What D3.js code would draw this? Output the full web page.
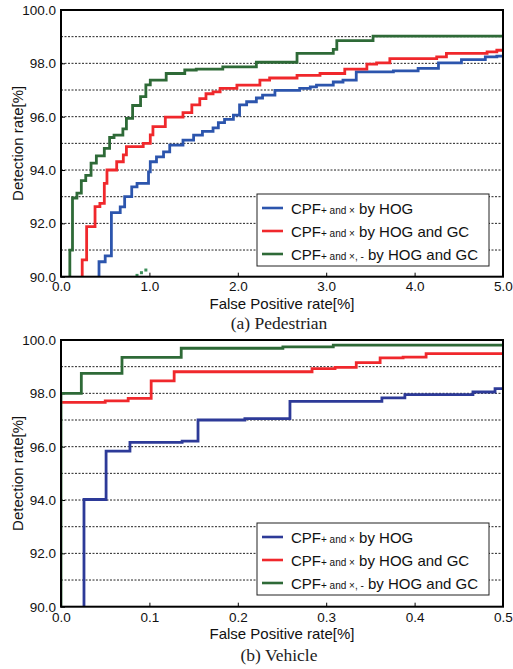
<!DOCTYPE html>
<html>
<head>
<meta charset="utf-8">
<script src="https://cdn.jsdelivr.net/npm/d3@7"></script>
<style>
	body { margin: 0; background: #fff; }
	svg { display: block; font-family: 'Liberation Sans', Arial, sans-serif; }
	.frame { fill: none; stroke: #000; stroke-width: 2; }
	.grid line { stroke: #222; stroke-width: 1; stroke-dasharray: 2,1.5; }
	.axis path { display: none; }
	.axis line { stroke: #000; }
	.axis text { font-size: 13.5px; fill: #111; }
	.roc { fill: none; stroke-width: 2.8; }
	.axis-label { font-size: 15px; fill: #111; }
	.caption { font-family: 'Liberation Serif', 'Times New Roman', serif; font-size: 17.5px; fill: #222; }
	.legend-box { fill: #fff; stroke: #222; stroke-width: 1; }
	.legend text { font-size: 15px; fill: #111; }
</style>
</head>
<body>
<div id="graphic"></div>
<script>
// Globals
var WIDTH = 513;
var HEIGHT = 669;

var COLORS = {
	'hog': '#2c55ad',
	'hogVeh': '#2d3a98',
	'hogGc': '#f0282c',
	'all': '#2e6a37'
};

// Legend labels: [main, subscript, rest]
var LEGEND_LABELS = [
	['CPF', '+ and \u00d7', ' by HOG'],
	['CPF', '+ and \u00d7', ' by HOG and GC'],
	['CPF', '+ and \u00d7, -', ' by HOG and GC']
];

var Y_TICKS = [90, 92, 94, 96, 98, 100];
var Y_GRID = [91, 92, 93, 94, 95, 96, 97, 98, 99];
var PED_X_TICKS = [0, 1, 2, 3, 4, 5];
var VEH_X_TICKS = [0, 0.1, 0.2, 0.3, 0.4, 0.5];

// (a) Pedestrian: [false positive rate, detection rate]
var PED_HOG = [
	[0.43, 89.0], [0.43, 90.56], [0.50, 90.78], [0.57, 92.40], [0.67, 92.62],
	[0.72, 93.00], [0.80, 93.37], [0.86, 93.50], [0.99, 93.93], [1.01, 94.31],
	[1.08, 94.49], [1.16, 94.68], [1.23, 94.93], [1.38, 95.12], [1.50, 95.31],
	[1.60, 95.45], [1.72, 95.58], [1.78, 95.78], [1.85, 95.90], [1.95, 96.06],
	[2.02, 96.44], [2.10, 96.56], [2.21, 96.70], [2.28, 96.81], [2.42, 96.99],
	[2.70, 97.06], [2.82, 97.12], [2.89, 97.18], [3.08, 97.30], [3.19, 97.37],
	[3.34, 97.68], [3.76, 97.72], [4.04, 97.81], [4.27, 98.02], [4.53, 98.14],
	[4.80, 98.24], [4.93, 98.27], [5.00, 98.27]
];

var PED_HOG_GC = [
	[0.24, 89.0], [0.24, 90.63], [0.29, 91.88], [0.385, 92.63], [0.44, 92.75],
	[0.49, 93.50], [0.52, 94.00], [0.63, 94.31], [0.705, 94.57], [0.74, 94.88],
	[0.93, 95.00], [1.01, 95.32], [1.04, 95.63], [1.18, 95.98], [1.38, 96.15],
	[1.48, 96.44], [1.57, 96.68], [1.64, 96.86], [1.72, 96.93], [1.80, 97.06],
	[1.99, 97.18], [2.25, 97.37], [2.36, 97.45], [2.67, 97.55], [2.93, 97.62],
	[3.21, 97.78], [3.46, 97.97], [3.57, 98.02], [3.72, 98.18], [4.25, 98.24],
	[4.36, 98.37], [4.82, 98.43], [4.93, 98.49], [5.00, 98.49]
];

var PED_ALL = [
	[0.10, 89.0], [0.10, 91.00], [0.13, 92.95], [0.18, 93.13], [0.23, 93.60],
	[0.28, 93.80], [0.34, 94.26], [0.40, 94.53], [0.49, 94.81], [0.55, 95.22],
	[0.60, 95.31], [0.70, 95.54], [0.74, 95.94], [0.81, 96.42], [0.90, 96.75],
	[0.96, 97.19], [1.01, 97.37], [1.19, 97.62], [1.40, 97.75], [1.53, 97.78],
	[1.83, 97.87], [2.21, 98.04], [2.67, 98.37], [3.08, 98.52], [3.12, 98.85],
	[3.53, 99.02], [5.00, 99.02]
];

// stray green specks near the x axis
var PED_SPECKS = [[0.86, 90.05], [0.91, 90.15], [0.96, 90.25]];

// (b) Vehicle
var VEH_HOG = [
	[0.026, 89.0], [0.026, 94.02], [0.051, 95.83], [0.078, 96.16], [0.137, 96.21],
	[0.155, 97.00], [0.208, 97.05], [0.259, 97.70], [0.363, 97.83], [0.389, 97.95],
	[0.466, 98.05], [0.491, 98.18], [0.500, 98.18]
];

var VEH_HOG_GC = [
	[0.0, 97.66], [0.050, 97.72], [0.076, 97.81], [0.102, 98.47], [0.128, 98.81],
	[0.284, 98.93], [0.310, 98.97], [0.334, 99.15], [0.361, 99.33], [0.387, 99.36],
	[0.413, 99.49], [0.500, 99.49]
];

var VEH_ALL = [
	[0.0, 89.0], [0.0, 98.00], [0.023, 98.75], [0.069, 99.35], [0.136, 99.69],
	[0.251, 99.74], [0.308, 99.81], [0.500, 99.81]
];

/*
 * Render one ROC panel.
 */
function renderPanel(svg, config) {
	var margins = { left: 61, top: config['top'] };
	var chartWidth = 442;
	var chartHeight = 266.7;

	var chartElement = svg.append('g')
		.attr('transform', 'translate(' + margins['left'] + ',' + margins['top'] + ')');

	var xScale = d3.scaleLinear()
		.domain([0, config['xMax']])
		.range([0, chartWidth]);

	var yScale = d3.scaleLinear()
		.domain([90, 100])
		.range([chartHeight, 0]);

	var clipId = 'clip-' + config['id'];
	chartElement.append('clipPath')
		.attr('id', clipId)
		.append('rect')
		.attr('width', chartWidth)
		.attr('height', chartHeight);

	// dashed horizontal grid
	chartElement.append('g')
		.attr('class', 'grid')
		.selectAll('line')
		.data(Y_GRID)
		.enter().append('line')
		.attr('x1', 0)
		.attr('x2', chartWidth)
		.attr('y1', function(d) { return yScale(d); })
		.attr('y2', function(d) { return yScale(d); });

	// axes, ticks pointing inward
	var xAxis = d3.axisBottom(xScale)
		.tickValues(config['xTicks'])
		.tickSizeInner(-4)
		.tickSizeOuter(0)
		.tickPadding(config['tickPad'])
		.tickFormat(d3.format(config['xFormat']));

	chartElement.append('g')
		.attr('class', 'x axis')
		.attr('transform', 'translate(0,' + chartHeight + ')')
		.call(xAxis);

	var yAxis = d3.axisLeft(yScale)
		.tickValues(Y_TICKS)
		.tickSizeInner(-4)
		.tickSizeOuter(0)
		.tickPadding(5)
		.tickFormat(d3.format('.1f'));

	chartElement.append('g')
		.attr('class', 'y axis')
		.call(yAxis);

	var line = d3.line()
		.curve(d3.curveStepAfter)
		.x(function(d) { return xScale(d[0]); })
		.y(function(d) { return yScale(d[1]); });

	var curves = chartElement.append('g')
		.attr('clip-path', 'url(#' + clipId + ')');

	curves.selectAll('path')
		.data(config['series'])
		.enter().append('path')
		.attr('class', 'roc')
		.attr('stroke', function(d) { return d['color']; })
		.attr('d', function(d) { return line(d['values']); });

	if (config['specks']) {
		curves.selectAll('rect.speck')
			.data(config['specks'])
			.enter().append('rect')
			.attr('class', 'speck')
			.attr('x', function(d) { return xScale(d[0]) - 1.5; })
			.attr('y', function(d) { return yScale(d[1]) - 1.5; })
			.attr('width', 3)
			.attr('height', 3)
			.attr('fill', '#3d8f5a');
	}

	chartElement.append('rect')
		.attr('class', 'frame')
		.attr('width', chartWidth)
		.attr('height', chartHeight);

	// legend
	var legend = chartElement.append('g')
		.attr('class', 'legend')
		.attr('transform', 'translate(196,' + config['legendTop'] + ')');

	legend.append('rect')
		.attr('class', 'legend-box')
		.attr('width', 232)
		.attr('height', 72);

	var rows = legend.selectAll('g.row')
		.data(config['series'])
		.enter().append('g')
		.attr('class', 'row')
		.attr('transform', function(d, i) { return 'translate(0,' + (14 + i * 23) + ')'; });

	rows.append('line')
		.attr('x1', 5)
		.attr('x2', 26)
		.attr('stroke', function(d) { return d['color']; })
		.attr('stroke-width', 2.6);

	var labels = rows.append('text')
		.attr('x', 34)
		.attr('y', 5.5);

	labels.append('tspan')
		.text(function(d) { return d['label'][0]; });
	labels.append('tspan')
		.attr('font-size', '10px')
		.text(function(d) { return d['label'][1]; });
	labels.append('tspan')
		.text(function(d) { return d['label'][2]; });

	// axis titles
	chartElement.append('text')
		.attr('class', 'axis-label')
		.attr('x', chartWidth / 2)
		.attr('y', chartHeight + config['xLabelOffset'])
		.attr('text-anchor', 'middle')
		.text('False Positive rate[%]');

	chartElement.append('text')
		.attr('class', 'axis-label')
		.attr('transform', 'translate(-38,' + (chartHeight / 2) + ') rotate(-90)')
		.attr('text-anchor', 'middle')
		.text('Detection rate[%]');

	chartElement.append('text')
		.attr('class', 'caption')
		.attr('x', chartWidth / 2 - 3)
		.attr('y', chartHeight + config['captionOffset'])
		.attr('text-anchor', 'middle')
		.text(config['caption']);
}

function render() {
	var svg = d3.select('#graphic').append('svg')
		.attr('width', WIDTH)
		.attr('height', HEIGHT);

	renderPanel(svg, {
		id: 'ped',
		top: 10,
		xMax: 5,
		xTicks: PED_X_TICKS,
		xFormat: '.1f',
		tickPad: 5,
		xLabelOffset: 32,
		captionOffset: 52,
		legendTop: 184,
		caption: '(a) Pedestrian',
		specks: PED_SPECKS,
		series: [
			{ values: PED_HOG, color: COLORS['hog'], label: LEGEND_LABELS[0] },
			{ values: PED_HOG_GC, color: COLORS['hogGc'], label: LEGEND_LABELS[1] },
			{ values: PED_ALL, color: COLORS['all'], label: LEGEND_LABELS[2] }
		]
	});

	renderPanel(svg, {
		id: 'veh',
		top: 340,
		xMax: 0.5,
		xTicks: VEH_X_TICKS,
		xFormat: '.1f',
		tickPad: 6,
		xLabelOffset: 32.5,
		captionOffset: 54.5,
		legendTop: 183,
		caption: '(b) Vehicle',
		series: [
			{ values: VEH_HOG, color: COLORS['hogVeh'], label: LEGEND_LABELS[0] },
			{ values: VEH_HOG_GC, color: COLORS['hogGc'], label: LEGEND_LABELS[1] },
			{ values: VEH_ALL, color: COLORS['all'], label: LEGEND_LABELS[2] }
		]
	});
}

document.addEventListener('DOMContentLoaded', function() {
	render();
});
</script>
</body>
</html>
